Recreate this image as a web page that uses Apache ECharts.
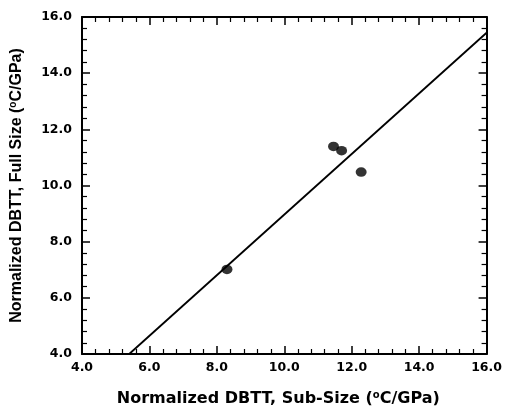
<!DOCTYPE html>
<html><head><meta charset="utf-8">
<script src="https://cdn.jsdelivr.net/npm/echarts@6/dist/echarts.min.js"></script>
<style>html,body{margin:0;padding:0;background:#fff}#c{width:505px;height:412px}</style>
</head><body><div id="c"></div>
<script>
const pointsX = [8.30, 11.46, 11.70, 12.28];
const pointsY = [7.01, 11.39, 11.24, 10.48];
const fitX = [5.4, 16.0];
const fitY = [4.0, 15.44];
const xName = 'Normalized DBTT, Sub-Size (';
const yName = 'Normalized DBTT, Full Size (';
const nameTail = 'C/GPa)';

const font = 'DejaVu Sans, sans-serif';
const fontY = 'Liberation Sans, Arial, sans-serif';
const chart = echarts.init(document.getElementById('c'));
const lab = {color:'#000', fontFamily:font, fontWeight:'bold', fontSize:12.5, formatter:v=>v.toFixed(1)};
const axLine = {show:true, lineStyle:{color:'#000', width:2}};
const tick = {show:true, inside:true, length:8, lineStyle:{color:'#000', width:1.5}};
const minor = {show:true, splitNumber:5, length:5, lineStyle:{color:'#000', width:1.2}};
const richX = {
  n:{fontFamily:font, fontWeight:'bold', fontSize:16, lineHeight:18, color:'#000'},
  s:{fontFamily:font, fontWeight:'bold', fontSize:10, lineHeight:10, color:'#000', verticalAlign:'top'}
};
const richY = {
  n:{fontFamily:fontY, fontWeight:'bold', fontSize:16, lineHeight:18, color:'#000'},
  s:{fontFamily:fontY, fontWeight:'bold', fontSize:10, lineHeight:10, color:'#000', verticalAlign:'top'}
};
const sd = pointsX.map((x,i)=>[x, pointsY[i]]);
const fd = fitX.map((x,i)=>[x, fitY[i]]);
chart.setOption({
  animation:false,
  grid:{left:80, right:16, top:17, bottom:53},
  xAxis:[
    {type:'value', min:4, max:16, interval:2, axisLine:axLine, axisTick:tick, minorTick:minor, splitLine:{show:false},
     axisLabel:Object.assign({margin:7}, lab),
     name:'{n|'+xName+'}{s|o}{n|'+nameTail+'}', nameLocation:'middle', nameGap:36,
     nameTextStyle:{rich:richX, padding:[0,12,0,0]}},
    {type:'value', position:'top', min:4, max:16, interval:2, axisLine:axLine, axisTick:tick, minorTick:minor, splitLine:{show:false}, axisLabel:{show:false}}
  ],
  yAxis:[
    {type:'value', min:4, max:16, interval:2, axisLine:axLine, axisTick:tick, minorTick:minor, splitLine:{show:false},
     axisLabel:Object.assign({margin:10}, lab),
     name:'{n|'+yName+'}{s|o}{n|'+nameTail+'}', nameLocation:'middle', nameGap:56, nameRotate:90,
     nameTextStyle:{rich:richY}},
    {type:'value', position:'right', min:4, max:16, interval:2, axisLine:axLine, axisTick:tick, minorTick:minor, splitLine:{show:false}, axisLabel:{show:false}}
  ],
  series:[
    {type:'line', data:fd, symbol:'none', lineStyle:{color:'#000', width:1.8}, silent:true},
    {type:'scatter', data:sd, symbol:'circle', symbolSize:[11,9.5], itemStyle:{color:'#000'}}
  ]
});
</script></body></html>
